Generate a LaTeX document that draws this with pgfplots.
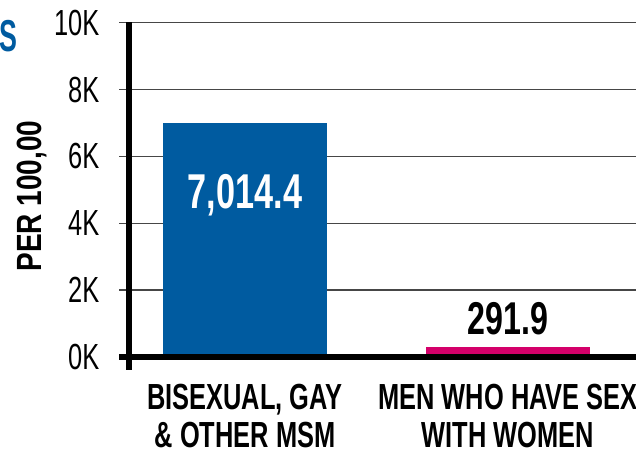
\documentclass[border=0pt]{standalone}
\usepackage{fontspec}
\usepackage{pgfplots}
\pgfplotsset{compat=1.18}
\setmainfont{Liberation Sans}[FakeStretch=0.7]
\newfontfamily\ylabfont{Liberation Sans}[FakeStretch=0.8]
\newfontfamily\titlefont{Liberation Sans}[FakeStretch=0.6]
\definecolor{barblue}{RGB}{0,91,160}
\definecolor{barpink}{RGB}{212,0,106}
\definecolor{gridgray}{RGB}{70,70,70}
\newcommand\tickfont{\normalfont\fontsize{36.3bp}{38bp}\selectfont}
\newcommand\catfont{\bfseries\fontsize{36.3bp}{38bp}\selectfont}
\begin{document}
\begin{tikzpicture}
\useasboundingbox (0,0) rectangle (636bp,461bp);
\clip (0,0) rectangle (636bp,461bp);
\begin{axis}[
  at={(129bp,104bp)}, anchor=south west,
  scale only axis, width=536.8bp, height=334.3bp,
  xmin=-0.441, xmax=1.6, ymin=0, ymax=10000,
  axis line style={draw=none},
  scaled y ticks=false,
  ytick={0,2000,4000,6000,8000,10000},
  yticklabels={0K,2K,4K,6K,8K,10K},
  xtick={0,1},
  xticklabels={{BISEXUAL, GAY\\\& OTHER MSM},{MEN WHO HAVE SEX\\WITH WOMEN}},
  ymajorgrids,
  major grid style={gridgray, line width=1.4bp},
  tick align=outside,
  major tick length=10bp,
  ytick style={gridgray, line width=1.4bp},
  xtick style={draw=none},
  yticklabel style={font=\tickfont, anchor=east, inner sep=0pt, xshift=-19.5bp},
  xticklabel style={font=\catfont, align=center, anchor=north, inner sep=0pt, yshift=-17bp},
  /pgf/number format/assume math mode=true,
  ybar, bar width=164bp,
]
\addplot[fill=barblue, draw=none, bar shift=0pt,
  nodes near coords={\pgfmathprintnumber[fixed,precision=1,fixed zerofill,1000 sep={,},assume math mode=true]{\pgfplotspointmeta}},
  every node near coord/.append style={font=\bfseries\fontsize{48.9bp}{50bp}\selectfont, text=white, anchor=base, inner sep=0pt, yshift=-85.5bp}]
  coordinates {(0,7014.4)};
\addplot[fill=barpink, draw=none, bar shift=0pt,
  nodes near coords={\pgfmathprintnumber[fixed,precision=1,fixed zerofill,1000 sep={,},assume math mode=true]{\pgfplotspointmeta}},
  every node near coord/.append style={font=\bfseries\fontsize{46bp}{48bp}\selectfont, text=black, anchor=base, inner sep=0pt, yshift=13bp}]
  coordinates {(1,291.9)};
\end{axis}
\draw[line width=5.5bp, black] (129bp,438.5bp) -- (129bp,91bp);
\draw[line width=5.5bp, black] (119bp,104bp) -- (640bp,104bp);
\node[anchor=base east, inner sep=0pt, text=barblue, font=\titlefont\bfseries\fontsize{44.7bp}{46bp}\selectfont] at (17.5bp,409bp) {S};
\node[rotate=90, anchor=base, inner sep=0pt, font=\ylabfont\bfseries\fontsize{35bp}{36bp}\selectfont] at (41bp,265bp) {PER 100,00};
\end{tikzpicture}
\end{document}
